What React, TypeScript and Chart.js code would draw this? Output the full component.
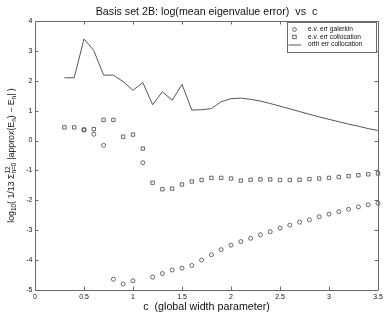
import React, { useEffect, useRef } from "react";
import { Chart, registerables } from "chart.js";

Chart.register(...registerables);

const cValues = [
  0.3, 0.4, 0.5, 0.6, 0.7, 0.8, 0.9, 1.0, 1.1, 1.2, 1.3, 1.4, 1.5, 1.6, 1.7, 1.8, 1.9,
  2.0, 2.1, 2.2, 2.3, 2.4, 2.5, 2.6, 2.7, 2.8, 2.9, 3.0, 3.1, 3.2, 3.3, 3.4, 3.5,
];

const evErrGalerkin: (number | null)[] = [
  null, null, 0.35, 0.21, -0.16, -4.64, -4.8, -4.69, -0.74, -4.57, -4.45, -4.33, -4.27, -4.18, -4.0, -3.82, -3.65,
  -3.5, -3.38, -3.27, -3.15, -3.05, -2.93, -2.83, -2.73, -2.65, -2.55, -2.46, -2.38, -2.3, -2.22, -2.15, -2.1,
];

const evErrCollocation = [
  0.44, 0.44, 0.37, 0.38, 0.69, 0.69, 0.13, 0.2, -0.27, -1.41, -1.63, -1.61, -1.47, -1.37, -1.32, -1.25, -1.25,
  -1.27, -1.34, -1.31, -1.3, -1.3, -1.32, -1.32, -1.31, -1.29, -1.27, -1.25, -1.22, -1.19, -1.16, -1.13, -1.1,
];

const orthErrCollocation = [
  2.1, 2.1, 3.4, 3.01, 2.19, 2.19, 1.97, 1.68, 1.94, 1.2, 1.63, 1.35, 1.88, 1.02, 1.03, 1.07, 1.3,
  1.4, 1.42, 1.38, 1.32, 1.24, 1.15, 1.06, 0.97, 0.88, 0.79, 0.71, 0.63, 0.55, 0.48, 0.4, 0.34,
];

const xTicks = [0, 0.5, 1, 1.5, 2, 2.5, 3, 3.5];
const yTicks = [-5, -4, -3, -2, -1, 0, 1, 2, 3, 4];

const titleText = "Basis set 2B: log(mean eigenvalue error)  vs  c";
const xLabelText = "c  (global width parameter)";
const legendLabels = ["e.v. err galerkin", "e.v. err collocation", "orth err collocation"];

const FONT = '"Liberation Sans", Arial, Helvetica, sans-serif';
const INK = "#111";
const FRAME = "#6a6a6a";
const MARK = "#444";

const decorPlugin = {
  id: "decor",
  afterDraw(chart: any) {
    const ctx: CanvasRenderingContext2D = chart.ctx;
    const xs = chart.scales.x;
    const ys = chart.scales.y;
    const { left, right, top, bottom } = chart.chartArea;
    ctx.save();
    // frame
    ctx.strokeStyle = FRAME;
    ctx.lineWidth = 1;
    ctx.beginPath();
    ctx.rect(Math.round(left) + 0.5, Math.round(top) + 0.5, Math.round(right - left), Math.round(bottom - top));
    ctx.stroke();
    // inward ticks
    const tl = 3.5;
    ctx.beginPath();
    xTicks.forEach((v) => {
      const px = Math.round(xs.getPixelForValue(v)) + 0.5;
      ctx.moveTo(px, bottom);
      ctx.lineTo(px, bottom - tl);
      ctx.moveTo(px, top);
      ctx.lineTo(px, top + tl);
    });
    yTicks.forEach((v) => {
      const py = Math.round(ys.getPixelForValue(v)) + 0.5;
      ctx.moveTo(left, py);
      ctx.lineTo(left + tl, py);
      ctx.moveTo(right, py);
      ctx.lineTo(right - tl, py);
    });
    ctx.stroke();

    // title
    ctx.fillStyle = INK;
    ctx.textAlign = "center";
    ctx.textBaseline = "middle";
    ctx.font = `10.7px ${FONT}`;
    ctx.fillText(titleText, (left + right) / 2, 12);
    // x label
    ctx.fillText(xLabelText, (left + right) / 2, 307);

    // y label with sub/superscripts
    const main = 8.8;
    const small = 6.4;
    type Seg = { t: string; f: number; dy: number; stack?: { t: string; dy: number }[] };
    const segs: Seg[] = [
      { t: "log", f: main, dy: 0 },
      { t: "10", f: small, dy: 2.8 },
      { t: "( 1/13 \u03A3", f: main, dy: 0 },
      { t: "", f: small, dy: 0, stack: [{ t: "12", dy: -3.6 }, { t: "n=0", dy: 3.0 }] },
      { t: " |approx(E", f: main, dy: 0 },
      { t: "n", f: small, dy: 2.8 },
      { t: ") \u2212 E", f: main, dy: 0 },
      { t: "n", f: small, dy: 2.8 },
      { t: "| )", f: main, dy: 0 },
    ];
    const widths = segs.map((s) => {
      ctx.font = `${s.f}px ${FONT}`;
      if (s.stack) return Math.max(...s.stack.map((k) => ctx.measureText(k.t).width)) + 0.5;
      return ctx.measureText(s.t).width;
    });
    const total = widths.reduce((a, b) => a + b, 0);
    ctx.save();
    ctx.translate(11.5, (top + bottom) / 2);
    ctx.rotate(-Math.PI / 2);
    ctx.textAlign = "left";
    let cx = -total / 2;
    segs.forEach((s, i) => {
      ctx.font = `${s.f}px ${FONT}`;
      if (s.stack) {
        s.stack.forEach((k) => ctx.fillText(k.t, cx, k.dy));
      } else {
        ctx.fillText(s.t, cx, s.dy);
      }
      cx += widths[i];
    });
    ctx.restore();

    // legend
    const lx0 = 287.5, ly0 = 22.5, lw = 89, lh = 30;
    ctx.fillStyle = "#fff";
    ctx.fillRect(lx0, ly0, lw, lh);
    ctx.strokeStyle = FRAME;
    ctx.strokeRect(lx0, ly0, lw, lh);
    const rows = [29.5, 37, 44.5];
    ctx.font = `6.6px ${FONT}`;
    ctx.textAlign = "left";
    ctx.textBaseline = "middle";
    ctx.fillStyle = INK;
    legendLabels.forEach((lab, i) => ctx.fillText(lab, 308, rows[i]));
    ctx.strokeStyle = MARK;
    ctx.lineWidth = 0.8;
    ctx.beginPath();
    ctx.arc(294.5, rows[0], 1.9, 0, Math.PI * 2);
    ctx.stroke();
    ctx.strokeRect(292.8, rows[1] - 1.7, 3.4, 3.4);
    ctx.lineWidth = 1;
    ctx.strokeStyle = "#555";
    ctx.beginPath();
    ctx.moveTo(288.5, rows[2] + 0.5);
    ctx.lineTo(301, rows[2] + 0.5);
    ctx.stroke();
    ctx.restore();
  },
};

export default function App() {
  const ref = useRef<HTMLCanvasElement | null>(null);
  useEffect(() => {
    if (!ref.current) return;
    const toPts = (ys: (number | null)[]) => cValues.map((c, i) => ({ x: c, y: ys[i] }));
    const chart = new Chart(ref.current, {
      type: "scatter",
      data: {
        datasets: [
          {
            label: legendLabels[0],
            data: toPts(evErrGalerkin) as any,
            pointStyle: "circle",
            pointRadius: 2,
            borderWidth: 0.8,
            borderColor: MARK,
            backgroundColor: "rgba(0,0,0,0)",
            showLine: false,
          },
          {
            label: legendLabels[1],
            data: toPts(evErrCollocation) as any,
            pointStyle: "rect",
            pointRadius: 2.4,
            borderWidth: 0.8,
            borderColor: MARK,
            backgroundColor: "rgba(0,0,0,0)",
            showLine: false,
          },
          {
            label: legendLabels[2],
            data: toPts(orthErrCollocation) as any,
            pointRadius: 0,
            borderWidth: 1,
            borderColor: "#555",
            backgroundColor: "rgba(0,0,0,0)",
            showLine: true,
            tension: 0,
          },
        ],
      },
      options: {
        responsive: false,
        animation: false,
        devicePixelRatio: 1,
        clip: false as any,
        layout: { padding: { left: 0, right: 10, top: 21, bottom: 0 } },
        plugins: { legend: { display: false }, tooltip: { enabled: false }, title: { display: false } },
        scales: {
          x: {
            type: "linear",
            min: 0,
            max: 3.5,
            grid: { display: false, drawTicks: false },
            border: { display: false },
            afterBuildTicks: (s: any) => {
              s.ticks = xTicks.map((v) => ({ value: v }));
            },
            afterFit: (s: any) => {
              s.height = 26;
              s.paddingLeft = 0;
              s.paddingRight = 0;
            },
            ticks: {
              padding: 2.5,
              color: INK,
              font: { size: 7, family: FONT },
              maxRotation: 0,
              autoSkip: false,
              callback: (v: any) => String(v),
            },
          },
          y: {
            type: "linear",
            min: -5,
            max: 4,
            grid: { display: false, drawTicks: false },
            border: { display: false },
            afterBuildTicks: (s: any) => {
              s.ticks = yTicks.map((v) => ({ value: v }));
            },
            afterFit: (s: any) => {
              s.width = 35;
              s.paddingTop = 0;
              s.paddingBottom = 0;
            },
            ticks: {
              padding: 2.5,
              color: INK,
              font: { size: 7, family: FONT },
              autoSkip: false,
              callback: (v: any) => String(v),
            },
          },
        },
      },
      plugins: [decorPlugin],
    });
    return () => chart.destroy();
  }, []);
  return (
    <div style={{ position: "fixed", left: 0, top: 0, width: 388, height: 316, background: "#fff" }}>
      <canvas ref={ref} width={388} height={316} style={{ width: 388, height: 316, display: "block" }} />
    </div>
  );
}
